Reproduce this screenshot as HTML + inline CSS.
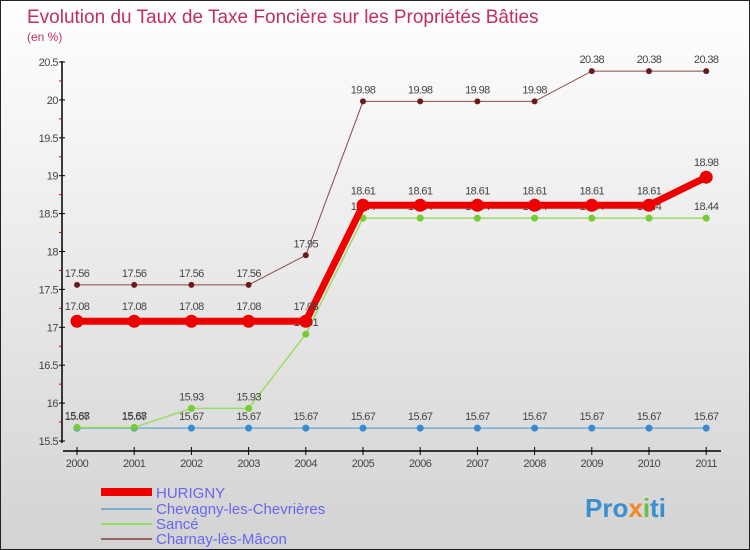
<!DOCTYPE html>
<html><head><meta charset="utf-8"><style>
body{margin:0}
#c{width:748px;height:548px;border:1px solid #222;background:linear-gradient(#ffffff,#d3d3d3);position:relative;font-family:"Liberation Sans",sans-serif;overflow:hidden}
svg text{font-family:"Liberation Sans",sans-serif}
</style></head><body>
<div id="c">
<svg id="s" width="748" height="548" xmlns="http://www.w3.org/2000/svg">
<text x="26" y="22" font-size="19" fill="#c0305a">Evolution du Taux de Taxe Foncière sur les Propriétés Bâties</text>
<text x="26" y="40" font-size="12" fill="#c0305a">(en %)</text>
<g id="axes"></g><g id="series"></g>
<g>
<rect x="100" y="487" width="51" height="8" fill="#ee0000"/>
<text x="155" y="497" font-size="15" fill="#6666ee">HURIGNY</text>
<rect x="100" y="507" width="51" height="2" fill="#7aaed0"/>
<text x="155" y="513" font-size="15" fill="#6666ee">Chevagny-les-Chevrières</text>
<rect x="100" y="522" width="51" height="2" fill="#99dd66"/>
<text x="155" y="528" font-size="15" fill="#6666ee">Sancé</text>
<rect x="100" y="537" width="51" height="2" fill="#996666"/>
<text x="155" y="543" font-size="15" fill="#6666ee">Charnay-lès-Mâcon</text>
</g>
<text x="584" y="516" font-size="26" font-weight="bold" fill="#3a8fd0">Pro<tspan fill="#f08a20">x</tspan><tspan fill="#6cc040">i</tspan>ti</text>
</svg></div>
<script>
const years=[2000,2001,2002,2003,2004,2005,2006,2007,2008,2009,2010,2011];
const yTicks=[15.5,16,16.5,17,17.5,18,18.5,19,19.5,20,20.5];
const hurigny=[17.08,17.08,17.08,17.08,17.08,18.61,18.61,18.61,18.61,18.61,18.61,18.98];
const chevagny=[15.67,15.67,15.67,15.67,15.67,15.67,15.67,15.67,15.67,15.67,15.67,15.67];
const sance=[15.68,15.68,15.93,15.93,16.91,18.44,18.44,18.44,18.44,18.44,18.44,18.44];
const charnay=[17.56,17.56,17.56,17.56,17.95,19.98,19.98,19.98,19.98,20.38,20.38,20.38];
const NS="http://www.w3.org/2000/svg";
const X=i=>76+i*57.2, Y=v=>440-(v-15.5)*75.8;
function mk(t,a,p){const e=document.createElementNS(NS,t);for(const k in a)e.setAttribute(k,a[k]);p.appendChild(e);return e;}
const ax=document.getElementById('axes'),sg=document.getElementById('series');
let l=mk('line',{x1:61,y1:60,x2:61,y2:442,stroke:'#000','stroke-width':1.5},ax);


yTicks.forEach((v,i)=>{mk('line',{x1:58,x2:64,y1:Y(v),y2:Y(v),stroke:'#000'},ax);
 if(i<yTicks.length-1)mk('line',{x1:58,x2:61,y1:Y(v+0.25),y2:Y(v+0.25),stroke:'#d00'},ax);
 const t=mk('text',{x:57,y:Y(v)+4,'font-size':11,fill:'#444','text-anchor':'end','letter-spacing':'-0.5'},ax);t.textContent=v;
 
 });
l=mk('line',{x1:62,y1:450,x2:720,y2:450,stroke:'#000','stroke-width':1.5},ax);


years.forEach((y,i)=>{mk('line',{x1:X(i),x2:X(i),y1:446,y2:454,stroke:'#000'},ax);
 const t=mk('text',{x:X(i),y:466,'font-size':11,fill:'#444','text-anchor':'middle','letter-spacing':'-0.5'},ax);t.textContent=y;
 
 });
function series(d,name,col,w,r,fill){
 const g=mk('g',{},sg);
 
 
 mk('polyline',{points:d.map((v,i)=>X(i)+','+Y(v)).join(' '),fill:'none',stroke:col,'stroke-width':w},g);
 d.forEach((v,i)=>{const c=mk('circle',{cx:X(i),cy:Y(v),r:r,fill:fill},g);
  
  
  const t=mk('text',{x:X(i),y:Y(v)-8-(r>4?3:0),'font-size':11,fill:'#444','text-anchor':'middle','letter-spacing':'-0.6'},g);t.textContent=v.toFixed(2);
  
  });
}
series(charnay,'charnay','#8a4a4a',1,3,'#6a1a1a');
series(chevagny,'chevagny','#7aaed0',1.5,3.5,'#3a8ad0');
series(sance,'sance','#99dd66',1.5,3.5,'#77cc33');
series(hurigny,'hurigny','#ee0000',7,6.5,'#ee0000');
</script>
</body></html>
